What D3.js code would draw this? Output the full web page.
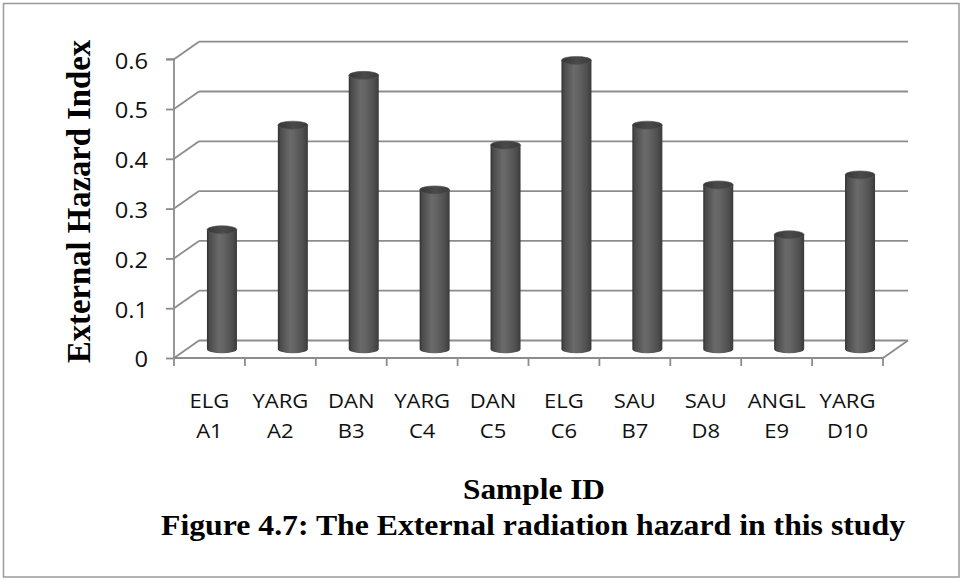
<!DOCTYPE html>
<html>
<head>
<meta charset="utf-8">
<script src="https://cdn.jsdelivr.net/npm/d3@7"></script>
<style>
  html, body { margin: 0; padding: 0; background: #fff; }
  svg { display: block; }
</style>
</head>
<body>
<svg id="chart" width="969" height="579"></svg>
<script>
// ---- data ----
const categories = ["ELG A1", "YARG A2", "DAN B3", "YARG C4", "DAN C5", "ELG C6", "SAU B7", "SAU D8", "ANGL E9", "YARG D10"];
const values = [0.24, 0.45, 0.55, 0.32, 0.41, 0.58, 0.45, 0.33, 0.23, 0.35];
const yTicks = [0, 0.1, 0.2, 0.3, 0.4, 0.5, 0.6];
const yTitle = "External Hazard Index";
const xTitle = "Sample ID";
const caption = "Figure 4.7: The External radiation hazard in this study";

// ---- layout ----
const svg = d3.select("#chart");
const depthX = 25, depthY = -17.5;
const x = d3.scaleBand().domain(categories).range([174, 883]);
const y = d3.scaleLinear().domain([0, 0.6]).range([358, 59.2]);
const grid = "#8c8c8c";
const sx = 1.13; // horizontal stretch of the sans labels

// outer border
svg.append("rect").attr("x", 3.5).attr("y", 3.5).attr("width", 955.5).attr("height", 573.5)
  .attr("fill", "none").attr("stroke", "#9a9a9a").attr("stroke-width", 1.5);

// gradients
const defs = svg.append("defs");
const g1 = defs.append("linearGradient").attr("id", "cyl").attr("x1", "0%").attr("x2", "100%").attr("y1", "0%").attr("y2", "0%");
[[0, "#2f2f2f"], [0.08, "#4a4a4a"], [0.4, "#6a6a6a"], [0.55, "#646464"], [0.85, "#4e4e4e"], [1, "#3a3a3a"]]
  .forEach(([o, c]) => g1.append("stop").attr("offset", o).attr("stop-color", c));
const g2 = defs.append("linearGradient").attr("id", "cyltop").attr("x1", "0%").attr("x2", "100%").attr("y1", "0%").attr("y2", "0%");
[[0, "#363636"], [0.5, "#4a4a4a"], [1, "#3c3c3c"]]
  .forEach(([o, c]) => g2.append("stop").attr("offset", o).attr("stop-color", c));

const [x0, x1] = x.range();
// back wall gridlines + left wall diagonals
yTicks.forEach(t => {
  svg.append("line").attr("x1", x0 + depthX).attr("x2", x1 + depthX)
    .attr("y1", y(t) + depthY).attr("y2", y(t) + depthY)
    .attr("stroke", grid).attr("stroke-width", 1.8);
  svg.append("line").attr("x1", x0).attr("x2", x0 + depthX)
    .attr("y1", y(t)).attr("y2", y(t) + depthY)
    .attr("stroke", grid).attr("stroke-width", 1.8);
});
// floor front edge and right edge
svg.append("line").attr("x1", x0).attr("x2", x1).attr("y1", y(0)).attr("y2", y(0))
  .attr("stroke", grid).attr("stroke-width", 1.8);
svg.append("line").attr("x1", x1).attr("x2", x1 + depthX).attr("y1", y(0)).attr("y2", y(0) + depthY)
  .attr("stroke", grid).attr("stroke-width", 1.8);

// y axis (front)
const yAxis = d3.axisLeft(y).tickValues(yTicks).tickSize(8).tickPadding(0).tickFormat(d => d3.format("")(d));
const yg = svg.append("g").attr("transform", `translate(${x0},0)`).call(yAxis);
yg.select(".domain").attr("stroke", grid).attr("stroke-width", 1.8).attr("d", `M-8,${y(0.6)}H0V${y(0)}`);
yg.selectAll(".tick line").attr("stroke", grid).attr("stroke-width", 1.8);
yg.selectAll(".tick text")
  .attr("x", -26 / sx).attr("dy", "0.42em")
  .attr("transform", `scale(${sx},1)`)
  .style("font-family", "'Open Sans', sans-serif").style("font-size", "21px").attr("fill", "#111");

// x ticks (category boundaries)
const bounds = categories.map(c => x(c)).concat([x1]);
svg.selectAll(".xtick").data(bounds).enter().append("line")
  .attr("x1", d => d).attr("x2", d => d).attr("y1", y(0)).attr("y2", y(0) + 8)
  .attr("stroke", grid).attr("stroke-width", 1.8);

// x labels (two lines)
const xl = svg.selectAll(".xlab").data(categories).enter().append("text")
  .attr("text-anchor", "middle")
  .attr("transform", `scale(${sx},1)`)
  .style("font-family", "'Open Sans', sans-serif").style("font-size", "19.5px").attr("fill", "#111");
xl.each(function(d) {
  const parts = d.split(" ");
  const cx = (x(d) + x.bandwidth() / 2) / sx;
  d3.select(this).append("tspan").attr("x", cx).attr("y", 408).text(parts[0]);
  d3.select(this).append("tspan").attr("x", cx).attr("y", 438).text(parts[1]);
});

// cylinders
const r = 15, ry = 4;
const bars = svg.selectAll(".bar").data(categories.map((c, i) => ({ c, v: values[i] }))).enter().append("g");
bars.append("path")
  .attr("d", d => {
    const cx = x(d.c) + x.bandwidth() / 2 + depthX / 2;
    const yb = y(0) + depthY / 2, yt = y(d.v) + depthY / 2;
    return `M${cx - r},${yt} L${cx - r},${yb} A${r},${ry} 0 0 0 ${cx + r},${yb} L${cx + r},${yt} Z`;
  })
  .attr("fill", "url(#cyl)");
bars.append("ellipse")
  .attr("cx", d => x(d.c) + x.bandwidth() / 2 + depthX / 2)
  .attr("cy", d => y(d.v) + depthY / 2)
  .attr("rx", r).attr("ry", ry)
  .attr("fill", "url(#cyltop)").attr("stroke", "#555").attr("stroke-width", 0.6);

// titles
svg.append("text").attr("transform", `translate(90,${(40 + 363) / 2}) rotate(-90)`)
  .attr("text-anchor", "middle")
  .attr("textLength", 323).attr("lengthAdjust", "spacingAndGlyphs")
  .style("font-family", "'Liberation Serif', 'Times New Roman', serif").style("font-weight", "bold")
  .style("font-size", "33px").attr("fill", "#000").text(yTitle);

svg.append("text").attr("x", 534).attr("y", 499).attr("text-anchor", "middle")
  .attr("textLength", 142).attr("lengthAdjust", "spacingAndGlyphs")
  .style("font-family", "'Liberation Serif', 'Times New Roman', serif").style("font-weight", "bold")
  .style("font-size", "29px").attr("fill", "#000").text(xTitle);

svg.append("text").attr("x", 533).attr("y", 535).attr("text-anchor", "middle")
  .attr("textLength", 744).attr("lengthAdjust", "spacingAndGlyphs")
  .style("font-family", "'Liberation Serif', 'Times New Roman', serif").style("font-weight", "bold")
  .style("font-size", "29px").attr("fill", "#000").text(caption);
</script>
</body>
</html>
